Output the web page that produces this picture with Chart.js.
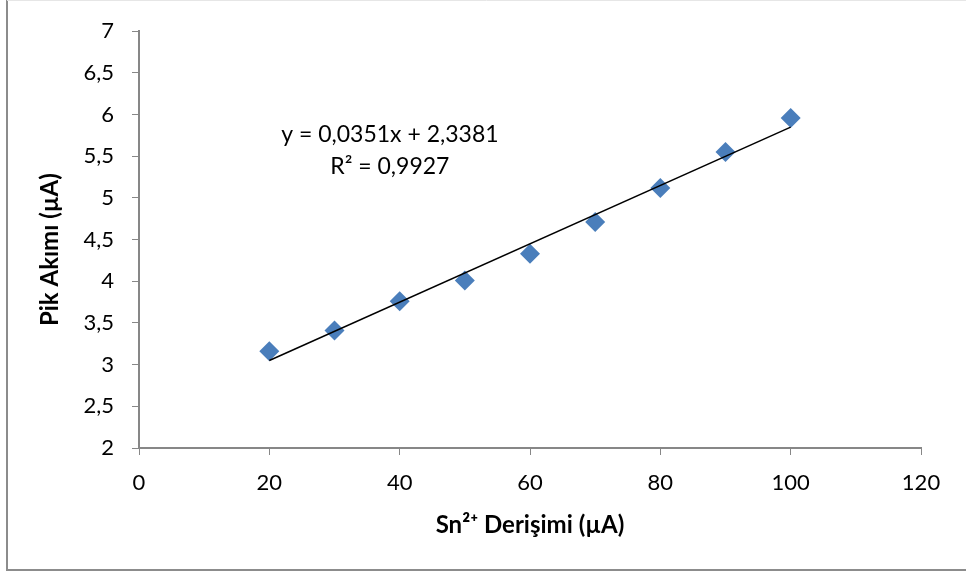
<!DOCTYPE html>
<html>
<head>
<meta charset="utf-8">
<script src="https://cdn.jsdelivr.net/npm/chart.js@4.4.0/dist/chart.umd.min.js"></script>
<style>
  html, body { margin: 0; padding: 0; background: #fff; }
  #wrap { width: 966px; height: 574px; }
</style>
</head>
<body>
<div id="wrap"><canvas id="scatterChart" width="966" height="574"></canvas></div>
<script>
const concentrations = [20, 30, 40, 50, 60, 70, 80, 90, 100];
const peakCurrents = [3.16, 3.41, 3.76, 4.01, 4.33, 4.71, 5.12, 5.55, 5.96];
const trendX = [20, 100];
const trendY = [3.05, 5.85];
const equationLines = ["y = 0,0351x + 2,3381", "R² = 0,9927"];
const xTitle = "Sn²⁺ Derişimi (µA)";
const yTitle = "Pik Akımı (µA)";

const fontName = "Lato, 'Open Sans', sans-serif";
const axisGray = "#878787";

const frame = {
  id: "frame",
  beforeDraw(chart) {
    const c = chart.ctx;
    c.save();
    c.fillStyle = "#fff";
    c.fillRect(0, 0, chart.width, chart.height);
    c.strokeStyle = "#8c8c8c";
    c.lineWidth = 2;
    c.beginPath();
    c.moveTo(7, 0);
    c.lineTo(7, 570);
    c.lineTo(chart.width, 570);
    c.stroke();
    c.strokeStyle = "#e6e6e6";
    c.lineWidth = 1;
    c.beginPath();
    c.moveTo(7, 0.5);
    c.lineTo(chart.width, 0.5);
    c.stroke();
    c.restore();
  },
  afterDatasetsDraw(chart) {
    const c = chart.ctx;
    const area = chart.chartArea;
    const x = chart.scales.x.getPixelForValue(38.5);
    const y = chart.scales.y.getPixelForValue(5.76);
    c.save();
    c.fillStyle = "#000";
    c.textAlign = "center";
    c.textBaseline = "middle";
    c.font = "23px " + fontName;
    c.fillText(equationLines[0], x, y);
    c.fillText(equationLines[1], x, y + 32);
    // axis titles
    c.font = "bold 24px " + fontName;
    c.fillText(xTitle, (area.left + area.right) / 2, area.bottom + 77);
    c.translate(50, (area.top + area.bottom) / 2 + 10);
    c.rotate(-Math.PI / 2);
    c.fillText(yTitle, 0, 0);
    c.restore();
  }
};

const ctx = document.getElementById("scatterChart").getContext("2d");

new Chart(ctx, {
  type: "scatter",
  data: {
    datasets: [{
      data: concentrations.map((v, i) => ({ x: v, y: peakCurrents[i] })),
      pointStyle: "rectRot",
      pointRadius: 10,
      pointHoverRadius: 10,
      backgroundColor: "#4a7ebb",
      borderColor: "#4a7ebb",
      borderWidth: 0,
      order: 2
    }, {
      type: "line",
      data: trendX.map((v, i) => ({ x: v, y: trendY[i] })),
      borderColor: "#000",
      borderWidth: 1.5,
      pointRadius: 0,
      fill: false,
      order: 1
    }]
  },
  options: {
    responsive: false,
    animation: false,
    layout: { padding: { left: 0, top: 27, right: 45, bottom: 0 } },
    plugins: {
      legend: { display: false },
      tooltip: { enabled: false }
    },
    scales: {
      x: {
        type: "linear",
        min: 0,
        max: 120,
        ticks: {
          stepSize: 20,
          color: "#000",
          padding: 15,
          font: { family: fontName, size: 22 }
        },
        grid: { drawOnChartArea: false, drawTicks: true, tickLength: 7, color: axisGray },
        border: { color: axisGray, width: 2 },
        afterFit(scale) { scale.height = 126; }
      },
      y: {
        min: 2,
        max: 7,
        ticks: {
          stepSize: 0.5,
          color: "#000",
          padding: 18,
          font: { family: fontName, size: 22 },
          callback: v => String(v).replace(".", ",")
        },
        grid: { drawOnChartArea: false, drawTicks: true, tickLength: 7, color: axisGray },
        border: { color: axisGray, width: 2 },
        afterFit(scale) { scale.width = 139; }
      }
    }
  },
  plugins: [frame]
});
</script>
</body>
</html>
